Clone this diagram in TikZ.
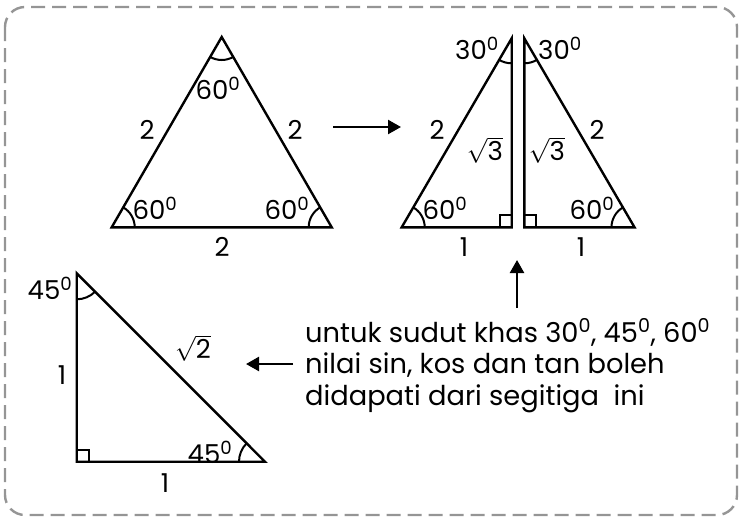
\documentclass[tikz,border=0pt]{standalone}
\usepackage{fontspec}
\setmainfont{Poppins}
\usetikzlibrary{angles,arrows.meta}
\definecolor{bordergray}{HTML}{959595}
\begin{document}
\begin{tikzpicture}[x=1pt,y=1pt,
  tri/.style={line width=2.4pt, line join=miter},
  ang/.style={draw, line width=2pt, angle radius=#1},
  ang/.default=23pt,
  sqmark/.style={line width=2pt},
  lbl/.style={font=\fontsize{26}{30}\selectfont, inner sep=0pt},
  txt/.style={font=\fontsize{27.3}{31.5}\selectfont, inner sep=0pt, align=left},
  arr/.style={line width=2.4pt, -{Triangle[length=13pt,width=14pt]}},
  border/.style={draw=bordergray, line width=2.4pt, rounded corners=20pt, dash pattern=on 14pt off 7pt}]
\useasboundingbox (0,0) rectangle (741,-517);
\draw[border] (5,-7) rectangle (737,-515);

% equilateral triangle
\coordinate (T) at (221.7,-37);
\coordinate (L) at (111.7,-227.3);
\coordinate (R) at (331.7,-227.3);
\draw[tri] (T) -- (L) -- (R) -- cycle;
\pic[ang] {angle=R--L--T};
\pic[ang] {angle=T--R--L};
\pic[ang] {angle=L--T--R};
\node[lbl] (eT) at (218,-88) {60\textsuperscript{0}};
\node[lbl] (eL) at (155,-208) {60\textsuperscript{0}};
\node[lbl] (eR) at (287,-208) {60\textsuperscript{0}};
\node[lbl] (sL) at (147,-130) {2};
\node[lbl] (sR) at (295,-130) {2};
\node[lbl] (sB) at (222,-247) {2};

% split triangles
\coordinate (A1) at (511.7,-38.3);
\coordinate (B1) at (401.7,-227.3);
\coordinate (C1) at (511.7,-227.3);
\coordinate (A2) at (524.3,-38.3);
\coordinate (B2) at (634.5,-227.3);
\coordinate (C2) at (524.3,-227.3);
\draw[tri] (A1) -- (B1) -- (C1) -- cycle;
\draw[tri] (A2) -- (B2) -- (C2) -- cycle;
\pic[ang] {angle=C1--B1--A1};
\pic[ang=25pt] {angle=B1--A1--C1};
\pic[ang] {angle=A2--B2--C2};
\pic[ang=25pt] {angle=C2--A2--B2};
\draw[sqmark] (C1) ++(-12,0) -- ++(0,12) -- ++(12,0);
\draw[sqmark] (C2) ++(12,0) -- ++(0,12) -- ++(-12,0);
\node[lbl] (tA1) at (477,-48) {30\textsuperscript{0}};
\node[lbl] (tA2) at (560,-48) {30\textsuperscript{0}};
\node[lbl] (tB1) at (445,-208) {60\textsuperscript{0}};
\node[lbl] (tB2) at (592,-208) {60\textsuperscript{0}};
\node[lbl] (h1) at (437,-130) {2};
\node[lbl] (h2) at (597,-130) {2};
\node[lbl] (r1) at (485,-150) {$\sqrt{\mbox{3}}$};
\node[lbl] (r2) at (547,-150) {$\sqrt{\mbox{3}}$};
\node[lbl] (b1) at (464,-247) {1};
\node[lbl] (b2) at (581,-247) {1};

% right isosceles triangle
\coordinate (P) at (76.7,-273.3);
\coordinate (Q) at (76.7,-461.7);
\coordinate (S) at (265,-461.7);
\draw[tri] (P) -- (Q) -- (S) -- cycle;
\pic[ang=26pt] {angle=Q--P--S};
\pic[ang=26pt] {angle=P--S--Q};
\draw[sqmark] (Q) ++(0,12) -- ++(12,0) -- ++(0,-12);
\node[lbl] (fP) at (50,-288) {45\textsuperscript{0}};
\node[lbl] (fS) at (210,-452) {45\textsuperscript{0}};
\node[lbl] (hyp) at (193,-348) {$\sqrt{\mbox{2}}$};
\node[lbl] (vL) at (62,-375) {1};
\node[lbl] (vB) at (165,-483) {1};

% text
\node[txt, anchor=base west] (note) at (305,-405)
  {untuk sudut khas 30\textsuperscript{0}, 45\textsuperscript{0}, 60\textsuperscript{0}\\
   nilai sin, kos dan tan boleh\\
   didapati dari segitiga\ \ ini};

% arrows
\coordinate (a1s) at (333,-127);
\coordinate (a1e) at (401,-127);
\draw[arr] (a1s) -- (a1e);
\coordinate (a2s) at (517,-308);
\coordinate (a2e) at (517,-260);
\draw[arr] (a2s) -- (a2e);
\coordinate (a3s) at (293,-364);
\coordinate (a3e) at (246,-364);
\draw[arr] (a3s) -- (a3e);
\end{tikzpicture}
\end{document}
